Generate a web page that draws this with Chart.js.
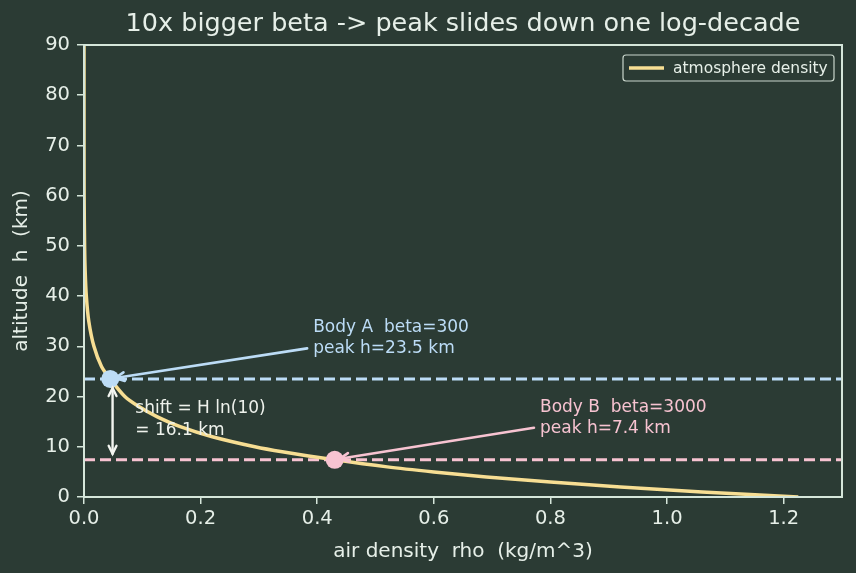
<!DOCTYPE html>
<html>
<head>
<meta charset="utf-8">
<script src="https://cdn.jsdelivr.net/npm/chart.js@4/dist/chart.umd.min.js"></script>
<style>
  html, body { margin: 0; padding: 0; background: #2b3b34; }
  #wrap { width: 856px; height: 573px; }
</style>
</head>
<body>
<div id="wrap"><canvas id="c" width="856" height="573"></canvas></div>
<script>
// atmosphere curve: altitude (km) and density (kg/m^3)
const altitudes = [0, 1, 2, 3, 4, 5, 6, 7.4, 9, 10, 12, 14, 16, 18, 20, 23.5, 26, 30, 35, 40, 45, 50, 60, 70, 80, 90];
const densities = [1.225, 1.06, 0.92, 0.80, 0.69, 0.60, 0.52, 0.43, 0.34, 0.293, 0.22, 0.165, 0.125, 0.094, 0.070, 0.045, 0.030, 0.017, 0.0082, 0.0040, 0.0020, 0.0010, 0.0002, 0.00005, 0.00001, 0.000003];

// the two bodies: peak altitude and density at that peak
const bodyNames = ["Body A  beta=300", "Body B  beta=3000"];
const peakAlt = [23.5, 7.4];
const peakRho = [0.045, 0.43];
const labelRho = [0.393, 0.782];
const labelAlt = [31.7, 15.9];

const xTicks = [0, 0.2, 0.4, 0.6, 0.8, 1.0, 1.2];
const yTicks = [0, 10, 20, 30, 40, 50, 60, 70, 80, 90];

const TITLE = "10x bigger beta -> peak slides down one log-decade";
const BG = "#2b3b34";
const FG = "#e6efe8";
const SPINE = "#d5e6da";
const CURVE = "#f7de93";
const COL_A = "#bcdcf6";
const COL_B = "#f7c3d1";
const FONT = "'DejaVu Sans', sans-serif";

const curve = altitudes.map((h, i) => ({ x: densities[i], y: h }));

function arrowHead(ctx, x0, y0, x1, y1, size) {
  const a = Math.atan2(y1 - y0, x1 - x0);
  ctx.beginPath();
  ctx.moveTo(x1 - size * Math.cos(a - 0.45), y1 - size * Math.sin(a - 0.45));
  ctx.lineTo(x1, y1);
  ctx.lineTo(x1 - size * Math.cos(a + 0.45), y1 - size * Math.sin(a + 0.45));
  ctx.stroke();
}

const decor = {
  id: "decor",
  beforeDraw(chart) {
    const ctx = chart.ctx;
    ctx.save();
    ctx.fillStyle = BG;
    ctx.fillRect(0, 0, chart.width, chart.height);
    ctx.restore();
  },
  beforeDatasetsDraw(chart) {
    const { ctx, chartArea: a, scales: { x, y } } = chart;
    ctx.save();
    ctx.lineWidth = 3;
    ctx.setLineDash([11, 5]);
    [COL_A, COL_B].forEach((c, i) => {
      ctx.strokeStyle = c;
      const py = y.getPixelForValue(peakAlt[i]);
      ctx.beginPath();
      ctx.moveTo(a.left, py);
      ctx.lineTo(a.right, py);
      ctx.stroke();
    });
    ctx.restore();
  },
  afterDatasetsDraw(chart) {
    const { ctx, chartArea: a, scales: { x, y } } = chart;
    ctx.save();
    // title centred over the plot box
    ctx.fillStyle = FG;
    ctx.font = "25.5px " + FONT;
    ctx.textAlign = "center";
    ctx.textBaseline = "middle";
    ctx.fillText(TITLE, (a.left + a.right) / 2, 24);
    ctx.lineCap = "round";
    // peak markers and pointer arrows
    [COL_A, COL_B].forEach((c, i) => {
      const px = x.getPixelForValue(peakRho[i]);
      const py = y.getPixelForValue(peakAlt[i]);
      ctx.fillStyle = c;
      ctx.beginPath();
      ctx.arc(px, py, 9, 0, Math.PI * 2);
      ctx.fill();
      const sx = x.getPixelForValue(labelRho[i]) - 6;
      const sy = y.getPixelForValue(labelAlt[i] - 2.1);
      const ex = px + 5;
      const ey = py - 1;
      ctx.strokeStyle = c;
      ctx.lineWidth = 2.6;
      ctx.beginPath();
      ctx.moveTo(sx, sy);
      ctx.lineTo(ex, ey);
      ctx.stroke();
      arrowHead(ctx, sx, sy, ex, ey, 10);
      ctx.fillStyle = c;
      ctx.font = "17px " + FONT;
      ctx.textAlign = "left";
      ctx.textBaseline = "middle";
      const lx = x.getPixelForValue(labelRho[i]);
      const ly = y.getPixelForValue(labelAlt[i]);
      ctx.fillText(bodyNames[i], lx, ly - 10);
      ctx.fillText("peak h=" + peakAlt[i] + " km", lx, ly + 11);
    });
    // shift double arrow
    const ax = x.getPixelForValue(0.049);
    const ya = y.getPixelForValue(peakAlt[0]) + 9;
    const yb = y.getPixelForValue(peakAlt[1]) - 6;
    ctx.strokeStyle = "#f2f5f0";
    ctx.lineWidth = 2.4;
    ctx.beginPath();
    ctx.moveTo(ax, ya);
    ctx.lineTo(ax, yb);
    ctx.stroke();
    arrowHead(ctx, ax, yb, ax, ya, 9);
    arrowHead(ctx, ax, ya, ax, yb, 9);
    ctx.fillStyle = "#eef2ec";
    ctx.font = "17px " + FONT;
    ctx.textAlign = "left";
    ctx.textBaseline = "middle";
    const tx = x.getPixelForValue(0.088);
    ctx.fillText("shift = H ln(10)", tx, y.getPixelForValue(17.6));
    ctx.fillText("= 16.1 km", tx, y.getPixelForValue(13.3));
    // box spines
    ctx.lineCap = "butt";
    ctx.strokeStyle = SPINE;
    ctx.lineWidth = 2;
    ctx.strokeRect(a.left, a.top, a.right - a.left, a.bottom - a.top);
    // legend
    const lw = 211, lh = 26;
    const lx0 = a.right - 8 - lw, ly0 = a.top + 10;
    ctx.fillStyle = BG;
    ctx.strokeStyle = "#c9d6cc";
    ctx.lineWidth = 1.2;
    ctx.beginPath();
    ctx.roundRect(lx0, ly0, lw, lh, 3);
    ctx.fill();
    ctx.stroke();
    ctx.strokeStyle = CURVE;
    ctx.lineWidth = 3.5;
    ctx.beginPath();
    ctx.moveTo(lx0 + 6, ly0 + lh / 2);
    ctx.lineTo(lx0 + 41, ly0 + lh / 2);
    ctx.stroke();
    ctx.fillStyle = FG;
    ctx.font = "15.5px " + FONT;
    ctx.fillText("atmosphere density", lx0 + 50, ly0 + lh / 2 + 1);
    ctx.restore();
  }
};

new Chart(document.getElementById("c"), {
  type: "scatter",
  data: {
    datasets: [{
      label: "atmosphere density",
      data: curve,
      showLine: true,
      borderColor: CURVE,
      borderWidth: 3.5,
      pointRadius: 0,
      tension: 0.3,
      fill: false
    }]
  },
  options: {
    responsive: false,
    animation: false,
    devicePixelRatio: 1,
    layout: { padding: { left: 0, right: 14, top: 45, bottom: 0 } },
    plugins: {
      legend: { display: false },
      tooltip: { enabled: false },
      title: { display: false }
    },
    scales: {
      x: {
        type: "linear",
        min: 0,
        max: 1.3,
        afterBuildTicks(s) { s.ticks = xTicks.map(v => ({ value: v })); },
        afterFit(s) { s.height = 76; },
        ticks: {
          color: FG,
          font: { family: FONT, size: 19.5 },
          padding: 3,
          maxRotation: 0,
          callback: v => Number(v).toFixed(1)
        },
        grid: { drawOnChartArea: false, drawTicks: true, tickLength: 7, color: SPINE, lineWidth: 1.5 },
        border: { display: true, color: SPINE, width: 2 },
        title: { display: true, text: "air density  rho  (kg/m^3)", color: FG, font: { family: FONT, size: 20 }, padding: { top: 4, bottom: 9 } }
      },
      y: {
        type: "linear",
        min: 0,
        max: 90,
        afterBuildTicks(s) { s.ticks = yTicks.map(v => ({ value: v })); },
        afterFit(s) { s.width = 84; },
        ticks: { color: FG, font: { family: FONT, size: 19.5 }, padding: 7 },
        grid: { drawOnChartArea: false, drawTicks: true, tickLength: 7, color: SPINE, lineWidth: 1.5 },
        border: { display: true, color: SPINE, width: 2 },
        title: { display: true, text: "altitude  h  (km)", color: FG, font: { family: FONT, size: 20 }, padding: { top: 10, bottom: 4 } }
      }
    }
  },
  plugins: [decor]
});
</script>
</body>
</html>
